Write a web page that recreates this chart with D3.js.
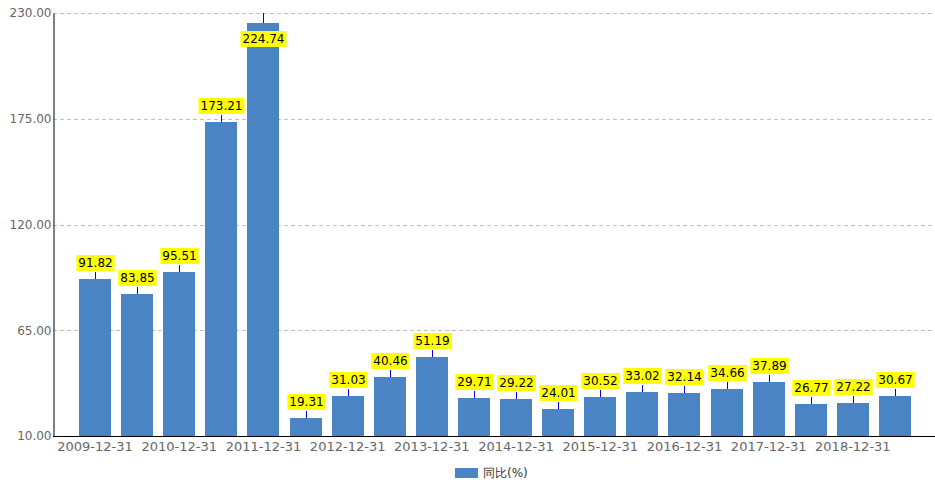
<!DOCTYPE html>
<html><head><meta charset="utf-8">
<script src="https://cdn.jsdelivr.net/npm/d3@7"></script>
<style>body{margin:0;background:#fff;}svg{display:block;font-family:"DejaVu Sans",sans-serif;}</style>
</head><body><svg id="c" width="935" height="488"></svg>
<script>
const categories = ["2009-12-31","2010-06-30","2010-12-31","2011-06-30","2011-12-31","2012-06-30","2012-12-31","2013-06-30","2013-12-31","2014-06-30","2014-12-31","2015-06-30","2015-12-31","2016-06-30","2016-12-31","2017-06-30","2017-12-31","2018-06-30","2018-12-31","2019-06-30"];
const values = [91.82,83.85,95.51,173.21,224.74,19.31,31.03,40.46,51.19,29.71,29.22,24.01,30.52,33.02,32.14,34.66,37.89,26.77,27.22,30.67];
const yTicks = [10,65,120,175,230];
const seriesName = "同比(%)";

(function(){
const svg = d3.select("#c");
const pL = 53, pR = 935, pT = 13, pB = 436;
const x = d3.scaleBand().domain(categories).range([74, 916]).paddingInner(0.24).paddingOuter(0.12);
const y = d3.scaleLinear().domain([10, 230]).range([pB, pT]);

// grid
svg.append("g").selectAll("line").data(yTicks.slice(1)).join("line")
  .attr("x1", pL).attr("x2", pR).attr("y1", d => Math.round(y(d)) + 0.5).attr("y2", d => Math.round(y(d)) + 0.5)
  .attr("stroke", "#c0c0c0").attr("stroke-dasharray", "4,3");

// bars
svg.append("g").selectAll("rect").data(values).join("rect")
  .attr("x", (d, i) => Math.round(x(categories[i]))).attr("width", Math.round(x.bandwidth()))
  .attr("y", d => Math.round(y(d))).attr("height", d => pB - Math.round(y(d)))
  .attr("fill", "#4a84c4");

// axes
const yAxis = svg.append("g").attr("transform", `translate(${pL+0.5},0)`)
  .call(d3.axisLeft(y).tickValues(yTicks).tickFormat(d3.format(".2f")).tickSize(0).tickPadding(2));
yAxis.select(".domain").attr("stroke", "#000");
yAxis.selectAll("text").attr("fill", "#666").style("font-size", "12px").style("font-family", "DejaVu Sans");

const xAxis = svg.append("g").attr("transform", `translate(0,${pB+0.5})`)
  .call(d3.axisBottom(x).tickValues(categories.filter((d, i) => i % 2 === 0)).tickSize(0).tickPadding(5));
xAxis.select(".domain").attr("d", `M${pL},0H${pR}`).attr("stroke", "#000");
xAxis.selectAll("text").attr("fill", "#666").style("font-size", "13px").style("font-family", "DejaVu Sans");

// labels
const lab = svg.append("g");
values.forEach((v, i) => {
  const cx = Math.round(x(categories[i]) + x.bandwidth() / 2) + 0.5;
  const yt = Math.round(y(v));
  const txt = d3.format(".2f")(v);
  let lineTop = yt - 7;
  const boxH = 16;
  let boxY = lineTop - 1 - boxH;
  if (boxY < pT) { lineTop = pT; boxY = yt + 8; }
  lab.append("line").attr("x1", cx).attr("x2", cx).attr("y1", yt).attr("y2", lineTop).attr("stroke", "#0000ff").attr("stroke-width", 1);
  const t = lab.append("text").attr("x", cx).attr("y", boxY + boxH / 2).attr("text-anchor", "middle")
    .attr("dominant-baseline", "central").style("font-size", "12px").attr("fill", "#000").text(txt);
  const w = t.node().getComputedTextLength() + 4;
  lab.insert("rect", () => t.node()).attr("x", cx - w / 2).attr("y", boxY).attr("width", w).attr("height", boxH).attr("fill", "#ffff00");
});

// legend
svg.append("rect").attr("x", 455).attr("y", 468).attr("width", 23).attr("height", 10).attr("fill", "#4a84c4");
svg.append("text").attr("x", 483).attr("y", 473).attr("dominant-baseline", "central").style("font-size", "12px").attr("fill", "#333").text(seriesName);
})();
</script></body></html>
